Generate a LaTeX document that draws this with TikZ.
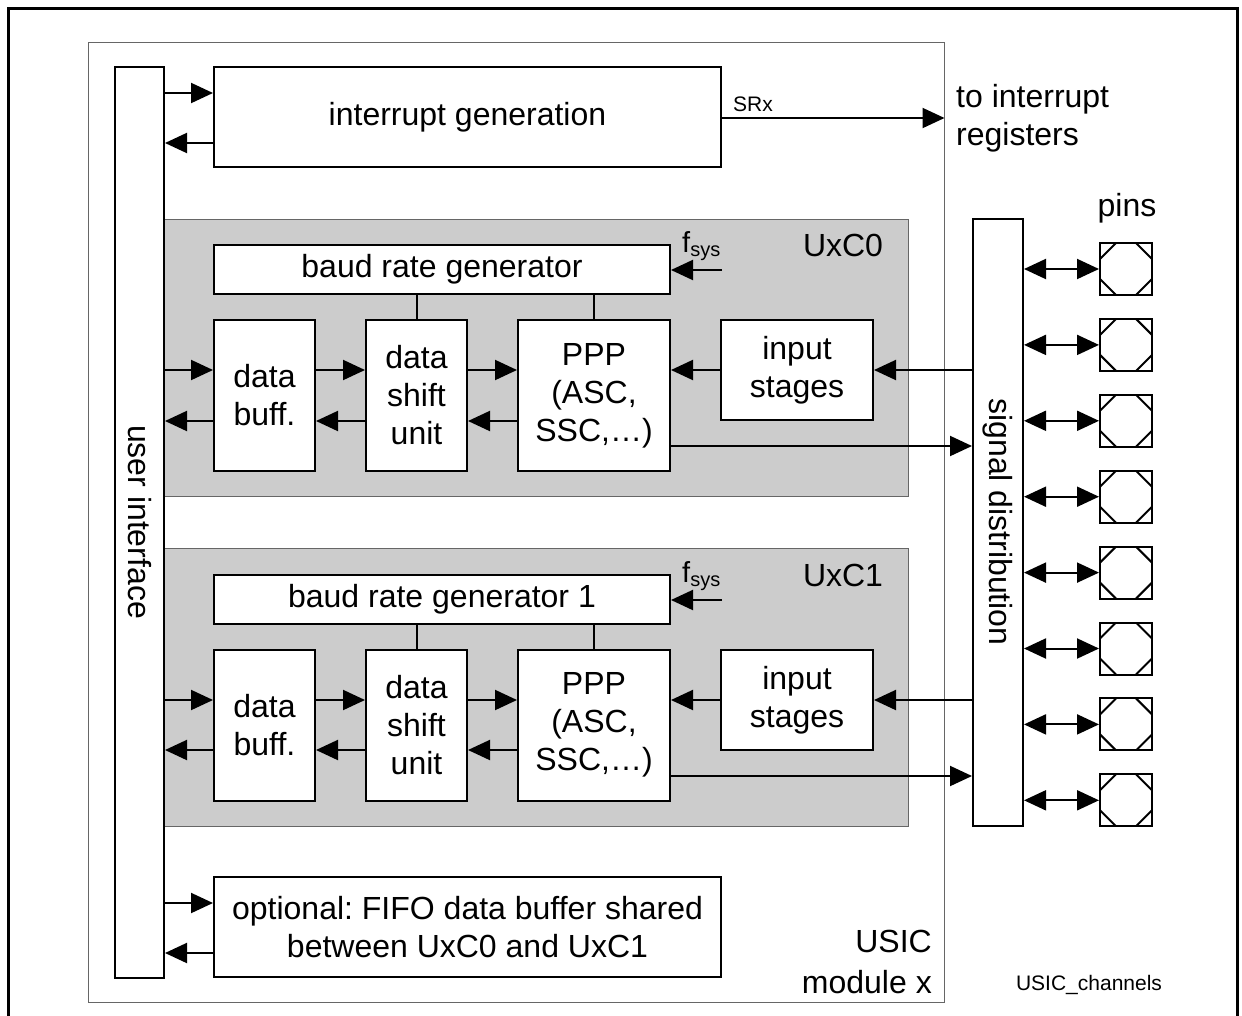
\documentclass[tikz,border=0pt]{standalone}
\usepackage{fontspec}
\setmainfont{Liberation Sans}
\usetikzlibrary{arrows.meta,calc}
\frenchspacing
\begin{document}
\begin{tikzpicture}[x=1pt,y=-1pt,
 txt/.style={font=\fontsize{32}{38}\selectfont},
 box/.style={draw, line width=2pt, fill=white, align=center, inner sep=0pt, txt},
 region/.style={draw=black!60, line width=1pt, fill=black!20, inner sep=0pt},
 arr/.style={line width=2pt, -{Triangle[length=22pt,width=20pt]}},
 darr/.style={line width=2pt, {Triangle[length=22pt,width=20pt]}-{Triangle[length=22pt,width=20pt]}},
 pin/.style={draw, line width=2pt, fill=white, minimum size=52pt, inner sep=0pt,
   path picture={
     \draw[line width=2pt] ([xshift=16pt]path picture bounding box.north west) -- ([yshift=-16pt]path picture bounding box.north west);
     \draw[line width=2pt] ([xshift=-16pt]path picture bounding box.north east) -- ([yshift=-16pt]path picture bounding box.north east);
     \draw[line width=2pt] ([xshift=16pt]path picture bounding box.south west) -- ([yshift=16pt]path picture bounding box.south west);
     \draw[line width=2pt] ([xshift=-16pt]path picture bounding box.south east) -- ([yshift=16pt]path picture bounding box.south east);
   }},
 small/.style={font=\fontsize{21}{24}\selectfont, inner sep=0pt}
]
\useasboundingbox (0,0) rectangle (1242,1015);
\fill[white] (0,0) rectangle (1242,1015);
\draw[line width=3pt] (8,8) rectangle (1237,1040);

% module
\node[draw=black!60, line width=1pt, minimum width=856pt, minimum height=960pt, inner sep=0pt] (mod) at (516,522) {};

% channel regions
\node[region, minimum width=744pt, minimum height=277pt] (ch0) at (536,357.5) {};
\node[region, minimum width=744pt, minimum height=278pt] (ch1) at (536,687) {};

% user interface
\node[box, minimum width=49pt, minimum height=911pt] (ui) at (139.5,522.5) {};
\node[txt, rotate=-90, inner sep=0pt] (uit) at (139.5,522) {user interface};

% interrupt generation
\node[box, minimum width=507pt, minimum height=100pt] (ig) at (467.5,117) {\raisebox{-3pt}{interrupt generation}};
\node[txt, anchor=west, align=left, inner sep=0pt] (toir) at (956,118) {to interrupt\\registers};
\coordinate (srx) at (0,118);
\draw[arr] (ig.east |- srx) -- (mod.east |- srx);
\node[small, anchor=west] (srxl) at (733,104) {SRx};
\coordinate (ia) at (0,93);
\coordinate (ib) at (0,143);
\draw[arr] (ui.east |- ia) -- (ig.west |- ia);
\draw[arr] (ig.west |- ib) -- (ui.east |- ib);

% signal distribution
\node[box, minimum width=50pt, minimum height=607pt] (sd) at (998,522.5) {};
\node[txt, rotate=-90, inner sep=0pt] (sdt) at (998,522) {signal distribution};

% channel 0
\node[box, minimum width=456pt, minimum height=49pt] (br0) at (442,269.5) {\raisebox{-2pt}{baud rate generator}};
\node[box, minimum width=101pt, minimum height=151pt] (db0) at (264.5,395.5) {data\\buff.};
\node[box, minimum width=101pt, minimum height=151pt] (ds0) at (416.5,395.5) {data\\shift\\unit};
\node[box, minimum width=152pt, minimum height=151pt] (pp0) at (594,395.5) {PPP\\(ASC,\\SSC,…)};
\node[box, minimum width=152pt, minimum height=100pt] (is0) at (797,370) {input\\stages};
\node[txt, inner sep=0pt] (c0l) at (843,245) {UxC0};
\node[inner sep=0pt, anchor=west] (fs0) at (682,246) {\fontsize{29}{30}\selectfont f\raisebox{-4pt}{\fontsize{20}{20}\selectfont sys}};
\coordinate (f0) at (722,270);
\draw[arr] (f0) -- (br0.east |- f0);
\draw[line width=2pt] (br0.south -| ds0.north) -- (ds0.north);
\draw[line width=2pt] (br0.south -| pp0.north) -- (pp0.north);
\coordinate (a0) at (0,370);
\coordinate (b0) at (0,421);
\coordinate (c0) at (0,446);
\draw[arr] (ui.east |- a0) -- (db0.west |- a0);
\draw[arr] (db0.west |- b0) -- (ui.east |- b0);
\draw[arr] (db0.east |- a0) -- (ds0.west |- a0);
\draw[arr] (ds0.west |- b0) -- (db0.east |- b0);
\draw[arr] (ds0.east |- a0) -- (pp0.west |- a0);
\draw[arr] (pp0.west |- b0) -- (ds0.east |- b0);
\draw[arr] (is0.west) -- (pp0.east |- is0.west);
\draw[arr] (sd.west |- is0.east) -- (is0.east);
\draw[arr] (pp0.east |- c0) -- (sd.west |- c0);

% channel 1
\node[box, minimum width=456pt, minimum height=49pt] (br1) at (442,599.5) {\raisebox{-2pt}{baud rate generator 1}};
\node[box, minimum width=101pt, minimum height=151pt] (db1) at (264.5,725) {data\\buff.};
\node[box, minimum width=101pt, minimum height=151pt] (ds1) at (416.5,725) {data\\shift\\unit};
\node[box, minimum width=152pt, minimum height=151pt] (pp1) at (594,725) {PPP\\(ASC,\\SSC,…)};
\node[box, minimum width=152pt, minimum height=100pt] (is1) at (797,700) {input\\stages};
\node[txt, inner sep=0pt] (c1l) at (843,575) {UxC1};
\node[inner sep=0pt, anchor=west] (fs1) at (682,576) {\fontsize{29}{30}\selectfont f\raisebox{-4pt}{\fontsize{20}{20}\selectfont sys}};
\coordinate (f1) at (722,600);
\draw[arr] (f1) -- (br1.east |- f1);
\draw[line width=2pt] (br1.south -| ds1.north) -- (ds1.north);
\draw[line width=2pt] (br1.south -| pp1.north) -- (pp1.north);
\coordinate (a1) at (0,700);
\coordinate (b1) at (0,750);
\coordinate (c1) at (0,776);
\draw[arr] (ui.east |- a1) -- (db1.west |- a1);
\draw[arr] (db1.west |- b1) -- (ui.east |- b1);
\draw[arr] (db1.east |- a1) -- (ds1.west |- a1);
\draw[arr] (ds1.west |- b1) -- (db1.east |- b1);
\draw[arr] (ds1.east |- a1) -- (pp1.west |- a1);
\draw[arr] (pp1.west |- b1) -- (ds1.east |- b1);
\draw[arr] (is1.west) -- (pp1.east |- is1.west);
\draw[arr] (sd.west |- is1.east) -- (is1.east);
\draw[arr] (pp1.east |- c1) -- (sd.west |- c1);

% FIFO
\node[box, minimum width=507pt, minimum height=100pt] (ff) at (467.5,927) {optional: FIFO data buffer shared\\between UxC0 and UxC1};
\coordinate (fa) at (0,903);
\coordinate (fb) at (0,953);
\draw[arr] (ui.east |- fa) -- (ff.west |- fa);
\draw[arr] (ff.west |- fb) -- (ui.east |- fb);

% pins
\node[txt, inner sep=0pt] (pl) at (1127,208) {pins};
\foreach \k in {0,...,7}{
  \node[pin] (p\k) at (1126,{269+75.9*\k}) {};
  \draw[darr] (sd.east |- p\k.west) -- (p\k.west);
}

% labels
\node[txt, anchor=east, align=right, inner sep=0pt, font=\fontsize{32}{41}\selectfont] (usic) at (932,962) {USIC\\module x};
\node[small] (uc) at (1089,985) {USIC\_channels};
\end{tikzpicture}
\end{document}
